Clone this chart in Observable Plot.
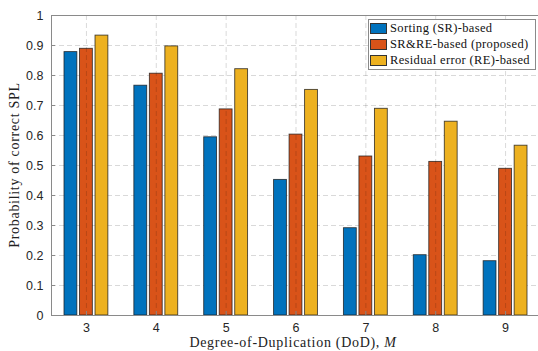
<!DOCTYPE html>
<html><head><meta charset="utf-8">
<script src="https://cdn.jsdelivr.net/npm/d3@7"></script>
<script src="https://cdn.jsdelivr.net/npm/@observablehq/plot@0.6"></script>
<style>
body{margin:0;background:#fff;overflow:hidden}
#wrap{position:relative;width:538px;height:351px;overflow:hidden}
.serif{font-family:"Liberation Serif","Times New Roman","DejaVu Serif",serif}
.legend{position:absolute;left:368px;top:19px;width:168px;height:51px;border:1px solid #8a8a8a;background:#fff;box-sizing:border-box;font-size:12.5px;letter-spacing:0.35px;color:#111;line-height:1}
.row{position:absolute;left:1px;height:16px;display:flex;align-items:center}
.sw{width:17px;height:11px;border:1px solid #333;box-sizing:border-box;margin-right:3px}
.xl{position:absolute;left:0;width:586px;top:336px;line-height:1;text-align:center;font-size:14px;letter-spacing:0.7px;color:#222}
.yl{position:absolute;left:15px;top:165px;line-height:1;transform:translate(-50%,-50%) rotate(-90deg);white-space:nowrap;font-size:14px;letter-spacing:0.7px;color:#222}
</style></head>
<body><div id="wrap"></div>
<script>
const dod = [3, 4, 5, 6, 7, 8, 9];
const seriesNames = ["Sorting (SR)-based", "SR&RE-based (proposed)", "Residual error (RE)-based"];
const seriesColors = ["#0072BD", "#D95319", "#EDB120"];
const sortingSR = [0.878, 0.766, 0.594, 0.452, 0.291, 0.201, 0.181];
const srRE = [0.889, 0.806, 0.687, 0.603, 0.530, 0.512, 0.489];
const residualRE = [0.933, 0.897, 0.821, 0.752, 0.689, 0.646, 0.566];
const yTicks = [0, 0.1, 0.2, 0.3, 0.4, 0.5, 0.6, 0.7, 0.8, 0.9, 1];

const seriesValues = [sortingSR, srRE, residualRE];
const rows = [];
seriesValues.forEach((vals, s) => vals.forEach((v, i) => rows.push({dod: dod[i], s, name: seriesNames[s], value: v})));
const pitch = 0.222, half = 0.092;

const chart = Plot.plot({
  width: 538, height: 351,
  marginLeft: 51, marginRight: 0, marginTop: 15, marginBottom: 36,
  style: {fontFamily: "'Liberation Sans', Arial, sans-serif", fontSize: "12.5px", color: "#262626", background: "#fff"},
  x: {domain: [2.5, 9.5], range: [51, 540]},
  y: {domain: [0, 1]},
  color: {domain: seriesNames, range: seriesColors},
  marks: [
    Plot.gridY(yTicks, {stroke: "#000", strokeOpacity: 0.15, strokeDasharray: "5,3"}),
    Plot.rectY(rows, {
      x1: d => d.dod + (d.s - 1) * pitch - half,
      x2: d => d.dod + (d.s - 1) * pitch + half,
      y1: 0, y2: "value", fill: "name",
      stroke: "#1a1a1a", strokeWidth: 0.9, strokeOpacity: 0.8
    }),
    Plot.gridX(dod, {stroke: "#000", strokeOpacity: 0.15, strokeDasharray: "5,3"}),
    Plot.frame({stroke: "#8a8a8a"}),
    Plot.axisY(yTicks, {tickSize: 0, tickPadding: 8, tickFormat: d => String(d), label: null, fill: "#262626"}),
    Plot.axisY(yTicks, {tickSize: -4, tickFormat: () => "", label: null, stroke: "#8a8a8a"}),
    Plot.axisX(dod, {tickSize: 0, tickPadding: 8, label: null, fill: "#262626"}),
    Plot.axisX(dod, {tickSize: -4, tickFormat: () => "", label: null, stroke: "#8a8a8a"})
  ]
});
const wrap = document.getElementById("wrap");
wrap.appendChild(chart);

const leg = document.createElement("div");
leg.className = "legend serif";
seriesNames.forEach((n, i) => {
  const r = document.createElement("div");
  r.className = "row";
  r.style.top = (i * 16) + "px";
  const sw = document.createElement("div");
  sw.className = "sw";
  sw.style.background = seriesColors[i];
  const t = document.createElement("span");
  t.textContent = n;
  r.appendChild(sw); r.appendChild(t);
  leg.appendChild(r);
});
wrap.appendChild(leg);

const xl = document.createElement("div");
xl.className = "xl serif";
xl.innerHTML = "Degree-of-Duplication (DoD), <i>M</i>";
wrap.appendChild(xl);
const yl = document.createElement("div");
yl.className = "yl serif";
yl.textContent = "Probability of correct SPL";
wrap.appendChild(yl);
</script></body></html>
